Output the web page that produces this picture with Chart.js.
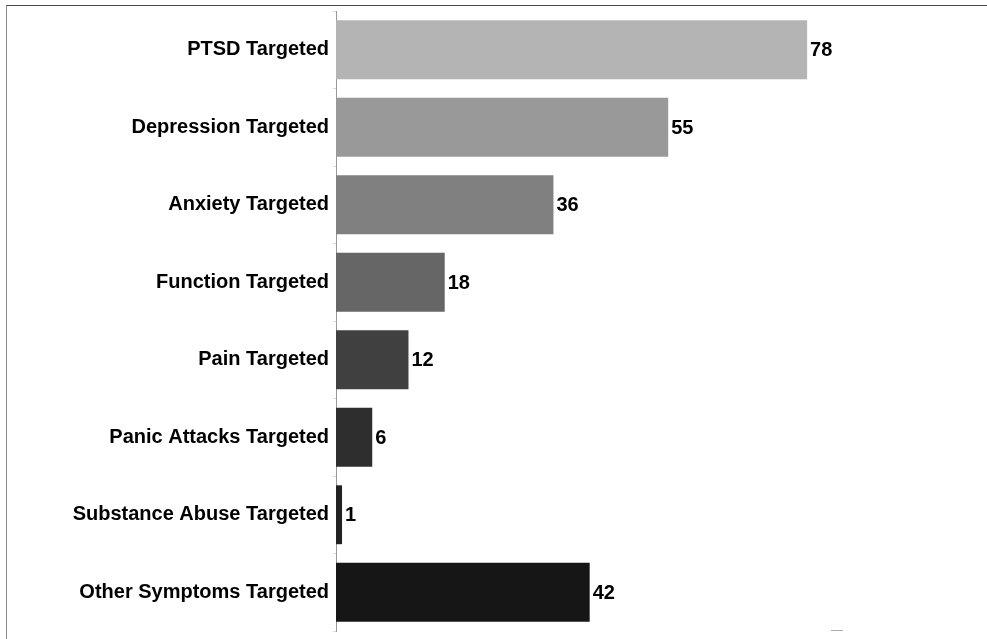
<!DOCTYPE html>
<html>
<head>
<meta charset="utf-8">
<script src="https://cdn.jsdelivr.net/npm/chart.js@4"></script>
<style>
  html, body { margin: 0; padding: 0; background: #fff; }
  #wrap { position: relative; width: 987px; height: 639px; }
  #frame { position: absolute; left: 6px; top: 5px; right: 0; bottom: 0;
           border-left: 1px solid #8a8a8a; border-top: 1px solid #4a4a4a; pointer-events: none; }
  #dash { position: absolute; left: 831px; top: 630px; width: 12px; height: 1px; background: #aaa; }
</style>
</head>
<body>
<div id="wrap">
  <canvas id="grafico" width="987" height="639"></canvas>
  <div id="frame"></div>
  <div id="dash"></div>
</div>
<script>
const categories = [
  'PTSD Targeted',
  'Depression Targeted',
  'Anxiety Targeted',
  'Function Targeted',
  'Pain Targeted',
  'Panic Attacks Targeted',
  'Substance Abuse Targeted',
  'Other Symptoms Targeted'
];
const counts = [78, 55, 36, 18, 12, 6, 1, 42];
const barColors = ['#b4b4b4', '#999999', '#808080', '#666666', '#404040', '#2e2e2e', '#222222', '#161616'];

const fontFamily = "Arial, 'Liberation Sans', sans-serif";

// value labels at the end of each bar
const valueLabels = {
  id: 'valueLabels',
  afterDatasetsDraw(chart) {
    const ctx = chart.ctx;
    const meta = chart.getDatasetMeta(0);
    ctx.save();
    ctx.font = `bold 20px ${fontFamily}`;
    ctx.fillStyle = '#000';
    ctx.textAlign = 'left';
    ctx.textBaseline = 'middle';
    meta.data.forEach((bar, i) => {
      ctx.fillText(String(counts[i]), bar.x + 3, bar.y + 1);
    });
    ctx.restore();
  }
};

const ctx = document.getElementById('grafico').getContext('2d');
new Chart(ctx, {
  type: 'bar',
  data: {
    labels: categories,
    datasets: [{
      data: counts,
      backgroundColor: barColors,
      borderWidth: 0,
      barPercentage: 0.76,
      categoryPercentage: 1
    }]
  },
  options: {
    indexAxis: 'y',
    responsive: false,
    animation: false,
    layout: { padding: { top: 11, bottom: 8, left: 0, right: 47 } },
    plugins: {
      legend: { display: false },
      tooltip: { enabled: false }
    },
    scales: {
      x: {
        display: false,
        min: 0,
        max: 100
      },
      y: {
        afterFit(scale) {
          scale.width = 336;
          scale.paddingTop = 0;
          scale.paddingBottom = 0;
        },
        grid: {
          drawOnChartArea: false,
          tickLength: 3,
          color: 'rgba(0,0,0,0.15)'
        },
        border: { display: true, color: '#999', width: 1 },
        ticks: {
          padding: 4,
          color: '#000',
          font: { size: 20, weight: 'bold', family: fontFamily }
        }
      }
    }
  },
  plugins: [valueLabels]
});
</script>
</body>
</html>
